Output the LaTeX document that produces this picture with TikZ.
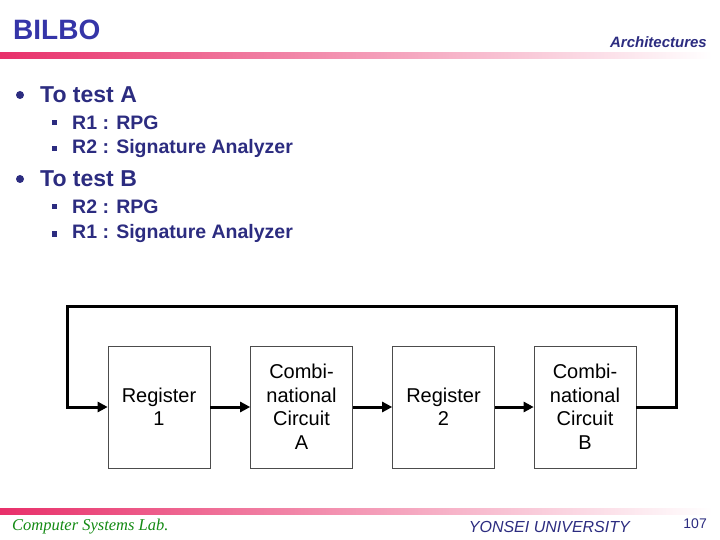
\documentclass[tikz,border=0pt]{standalone}
\usepackage{fontspec}
\setmainfont{Liberation Sans}
\newfontfamily\serifit{Liberation Serif}
\usetikzlibrary{arrows.meta}
\definecolor{titleblue}{HTML}{3535A8}
\definecolor{navy}{HTML}{2C2C80}
\definecolor{barred}{HTML}{E8306A}
\definecolor{labgreen}{HTML}{138A13}
\begin{document}
\begin{tikzpicture}[x=1pt,y=-1pt,
  blk/.style={draw=black!70,line width=0.6pt,minimum width=102pt,minimum height=122pt,inner sep=0pt,
    align=center,font=\fontsize{20}{23.5}\selectfont},
  wire/.style={line width=3pt,-{Triangle[length=10pt,width=10pt]}},
  lvl1/.style={anchor=west,text=navy,font=\bfseries\fontsize{23}{26}\selectfont,inner sep=0pt},
  lvl2/.style={anchor=west,text=navy,font=\bfseries\fontsize{19.5}{22}\selectfont,inner sep=0pt}]
\useasboundingbox (0,0) rectangle (720,540);
% header
\node[anchor=west,inner sep=0pt,text=titleblue,font=\bfseries\fontsize{28}{30}\selectfont] (title) at (13,30) {BILBO};
\node[anchor=east,inner sep=0pt,text=navy,font=\bfseries\itshape\fontsize{15}{18}\selectfont] (arch) at (707,42) {Architectures};
\shade[left color=barred,right color=white] (0,53) rectangle (712,59);
% bullets
\fill[navy] (20,95) circle (4);
\node[lvl1] (ta) at (40,95) {To test A};
\fill[navy] (51.5,120) rectangle (57,125.5);
\node[lvl2] (a1) at (72,123) {R1 : RPG};
\fill[navy] (51.5,146) rectangle (57,151.5);
\node[lvl2] (a2) at (72,149) {R2 : Signature Analyzer};
\fill[navy] (20,179) circle (4);
\node[lvl1] (tb) at (40,179) {To test B};
\fill[navy] (51.5,204) rectangle (57,209.5);
\node[lvl2] (b1) at (72,207) {R2 : RPG};
\fill[navy] (51.5,231) rectangle (57,236.5);
\node[lvl2] (b2) at (72,234) {R1 : Signature Analyzer};
% diagram
\node[blk] (r1) at (159,407) {Register\\1};
\node[blk] (ca) at (301.5,407) {Combi-\\national\\Circuit\\A};
\node[blk] (r2) at (443.5,407) {Register\\2};
\node[blk] (cb) at (585,407) {Combi-\\national\\Circuit\\B};
\draw[wire] (r1) -- (ca);
\draw[wire] (ca) -- (r2);
\draw[wire] (r2) -- (cb);
\coordinate (fr) at (676,407);
\coordinate (fl) at (67,407);
\draw[wire,line join=miter] (cb.east) -- (fr) |- (67,306) -- (fl) -- (r1.west);
% footer
\shade[left color=barred,right color=white] (0,508) rectangle (712,514);
\node[anchor=west,inner sep=0pt,text=labgreen,font=\serifit\itshape\fontsize{16.5}{18}\selectfont] (lab) at (12,527) {Computer Systems Lab.};
\node[anchor=east,inner sep=0pt,text=navy,font=\itshape\fontsize{16}{18}\selectfont] (yu) at (630,527) {YONSEI UNIVERSITY};
\node[anchor=east,inner sep=0pt,text=navy,font=\fontsize{14}{16}\selectfont] (pg) at (707,524) {107};
\end{tikzpicture}
\end{document}
